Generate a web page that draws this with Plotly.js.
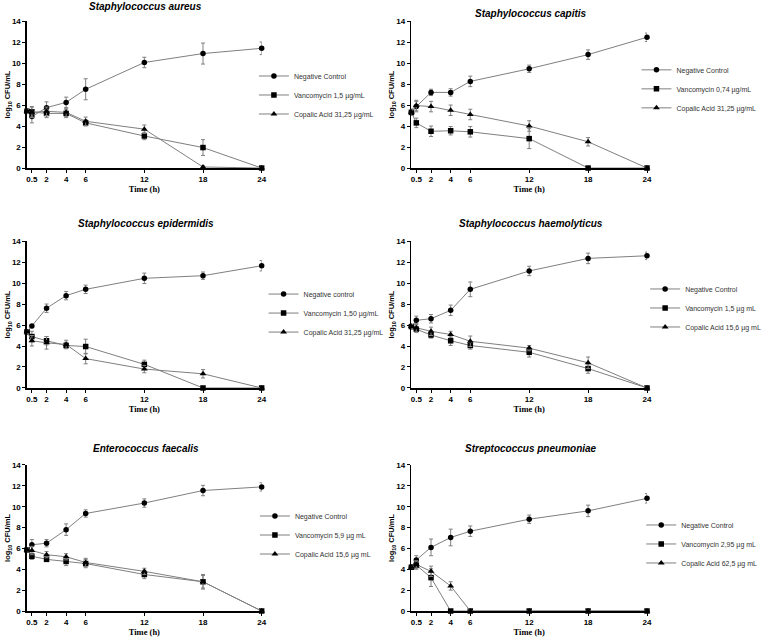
<!DOCTYPE html>
<html>
<head>
<meta charset="utf-8">
<script src="https://cdn.plot.ly/plotly-3.0.1.min.js"></script>
<style>html,body{margin:0;padding:0;background:#fff;}#chart{width:778px;height:637px;}</style>
</head>
<body>
<div id="chart"></div>
<script>
// ---- data ----
const times = [0, 0.5, 2, 4, 6, 12, 18, 24];
const timeTicks = [0.5, 2, 4, 6, 12, 18, 24];

const panelTitles = ["Staphylococcus aureus", "Staphylococcus capitis", "Staphylococcus epidermidis",
  "Staphylococcus haemolyticus", "Enterococcus faecalis", "Streptococcus pneumoniae"];

const negLabels = ["Negative Control", "Negative Control", "Negative control", "Negative Control", "Negative Control", "Negative Control"];
const vanLabels = ["Vancomycin 1,5 µg/mL", "Vancomycin 0,74 µg/mL", "Vancomycin 1,50 µg/mL", "Vancomycin 1,5 µg mL", "Vancomycin 5,9 µg mL", "Vancomycin 2,95 µg mL"];
const copLabels = ["Copalic Acid 31,25 µg/mL", "Copalic Acid 31,25 µg/mL", "Copalic Acid 31,25 µg/mL", "Copalic Acid 15,6 µg mL", "Copalic Acid 15,6 µg mL", "Copalic Acid 62,5 µg mL"];

// S. aureus
const aureusNeg = [5.4, 4.9, 5.75, 6.25, 7.5, 10.05, 10.9, 11.4];
const aureusNegErr = [0.2, 0.6, 0.55, 0.5, 1.0, 0.5, 1.0, 0.6];
const aureusVan = [5.4, 5.35, 5.2, 5.2, 4.3, 3.05, 1.95, 0];
const aureusVanErr = [0.2, 0.5, 0.4, 0.4, 0.3, 0.35, 0.75, 0];
const aureusCop = [5.4, 5.3, 5.4, 5.3, 4.45, 3.7, 0.1, 0];
const aureusCopErr = [0.2, 0.5, 0.4, 0.4, 0.4, 0.4, 0.1, 0];

// S. capitis
const capitisNeg = [5.3, 5.85, 7.2, 7.2, 8.25, 9.45, 10.8, 12.45];
const capitisNegErr = [0.3, 0.5, 0.3, 0.35, 0.5, 0.35, 0.45, 0.4];
const capitisVan = [5.3, 4.3, 3.5, 3.55, 3.45, 2.8, 0, 0];
const capitisVanErr = [0.3, 0.45, 0.5, 0.4, 0.5, 0.95, 0, 0];
const capitisCop = [5.3, 5.95, 5.85, 5.5, 5.1, 4.0, 2.5, 0];
const capitisCopErr = [0.3, 0.5, 0.5, 0.5, 0.5, 0.5, 0.4, 0];

// S. epidermidis
const epidermidisNeg = [5.35, 5.9, 7.6, 8.8, 9.4, 10.45, 10.7, 11.65];
const epidermidisNegErr = [0.2, 0.15, 0.4, 0.4, 0.4, 0.5, 0.35, 0.5];
const epidermidisVan = [5.35, 4.9, 4.5, 4.05, 3.95, 2.25, 0, 0];
const epidermidisVanErr = [0.2, 0.5, 0.4, 0.3, 0.7, 0.4, 0, 0];
const epidermidisCop = [5.35, 4.5, 4.3, 4.15, 2.8, 1.8, 1.35, 0];
const epidermidisCopErr = [0.2, 0.5, 0.6, 0.4, 0.5, 0.35, 0.4, 0];

// S. haemolyticus
const haemolyticusNeg = [5.85, 6.45, 6.6, 7.4, 9.4, 11.15, 12.35, 12.6];
const haemolyticusNegErr = [0.2, 0.4, 0.4, 0.5, 0.7, 0.45, 0.5, 0.35];
const haemolyticusVan = [5.85, 5.6, 5.05, 4.5, 4.05, 3.4, 1.85, 0];
const haemolyticusVanErr = [0.2, 0.3, 0.3, 0.45, 0.35, 0.45, 0.45, 0];
const haemolyticusCop = [5.85, 5.75, 5.4, 5.1, 4.45, 3.8, 2.4, 0];
const haemolyticusCopErr = [0.2, 0.4, 0.4, 0.3, 0.5, 0.25, 0.55, 0];

// E. faecalis
const faecalisNeg = [5.85, 6.35, 6.5, 7.8, 9.35, 10.35, 11.55, 11.9];
const faecalisNegErr = [0.2, 0.5, 0.35, 0.55, 0.35, 0.4, 0.5, 0.4];
const faecalisVan = [5.85, 5.25, 4.95, 4.75, 4.55, 3.5, 2.8, 0];
const faecalisVanErr = [0.2, 0.3, 0.2, 0.4, 0.4, 0.4, 0.6, 0];
const faecalisCop = [5.85, 5.8, 5.4, 5.2, 4.65, 3.8, 2.8, 0];
const faecalisCopErr = [0.2, 0.4, 0.3, 0.3, 0.4, 0.3, 0.7, 0];

// S. pneumoniae
const pneumoniaeNeg = [4.2, 4.9, 6.1, 7.05, 7.65, 8.8, 9.6, 10.8];
const pneumoniaeNegErr = [0.1, 0.4, 0.8, 0.8, 0.5, 0.4, 0.55, 0.45];
const pneumoniaeVan = [4.2, 4.4, 3.2, 0, 0, 0, 0, 0];
const pneumoniaeVanErr = [0.1, 0.4, 0.85, 0, 0, 0, 0, 0];
const pneumoniaeCop = [4.2, 4.45, 3.8, 2.4, 0, 0, 0, 0];
const pneumoniaeCopErr = [0.1, 0.35, 0.5, 0.4, 0, 0, 0, 0];

const panels = [
  [aureusNeg, aureusNegErr, aureusVan, aureusVanErr, aureusCop, aureusCopErr],
  [capitisNeg, capitisNegErr, capitisVan, capitisVanErr, capitisCop, capitisCopErr],
  [epidermidisNeg, epidermidisNegErr, epidermidisVan, epidermidisVanErr, epidermidisCop, epidermidisCopErr],
  [haemolyticusNeg, haemolyticusNegErr, haemolyticusVan, haemolyticusVanErr, haemolyticusCop, haemolyticusCopErr],
  [faecalisNeg, faecalisNegErr, faecalisVan, faecalisVanErr, faecalisCop, faecalisCopErr],
  [pneumoniaeNeg, pneumoniaeNegErr, pneumoniaeVan, pneumoniaeVanErr, pneumoniaeCop, pneumoniaeCopErr]
];

// ---- layout geometry ----
const xDomains = [[0, 0.3785], [0.62, 1]];
const yDomains = [[0.7508, 1], [0.378, 0.627], [0, 0.2475]];
const titlePos = [[0.1916, 1.025], [0.813, 1.012], [0.1916, 0.656], [0.813, 0.656], [0.1916, 0.276], [0.813, 0.276]];
const legendPos = [[0.366, 0.8746], [0.983, 0.885], [0.3816, 0.505], [0.997, 0.5136], [0.3676, 0.1288], [0.9907, 0.1136]];

const lineColor = '#7f7f7f';
const symbols = ['circle', 'square', 'triangle-up'];

const traces = [];
const layout = {
  width: 778, height: 637,
  margin: {l: 27, r: 109, t: 21, b: 26},
  paper_bgcolor: '#fff', plot_bgcolor: '#fff',
  showlegend: true,
  annotations: []
};

panels.forEach((p, i) => {
  const n = i + 1;
  const xa = n === 1 ? 'x' : 'x' + n;
  const ya = n === 1 ? 'y' : 'y' + n;
  const legId = n === 1 ? 'legend' : 'legend' + n;
  const names = [negLabels[i], vanLabels[i], copLabels[i]];
  for (let s = 0; s < 3; s++) {
    traces.push({
      type: 'scatter', mode: 'lines+markers',
      x: times, y: p[s * 2],
      name: names[s],
      xaxis: xa, yaxis: ya, legend: legId,
      cliponaxis: false,
      line: {color: lineColor, width: 1},
      marker: {symbol: symbols[s], color: '#000', size: s === 2 ? 6 : 5.5},
      error_y: {type: 'data', array: p[s * 2 + 1], visible: true, color: lineColor, thickness: 1, width: 2}
    });
  }
  const col = i % 2, row = Math.floor(i / 2);
  const xk = n === 1 ? 'xaxis' : 'xaxis' + n;
  const yk = n === 1 ? 'yaxis' : 'yaxis' + n;
  layout[xk] = {
    domain: xDomains[col], anchor: ya, range: [0, 24],
    tickmode: 'array', tickvals: timeTicks, ticktext: timeTicks.map(String),
    showline: true, linecolor: '#000', linewidth: 1.6,
    ticks: 'outside', ticklen: 3, tickwidth: 1, tickcolor: '#000',
    showgrid: false, zeroline: false,
    tickfont: {family: 'Liberation Sans, Arial', size: 8, color: '#000', weight: 'bold'},
    title: {text: 'Time (h)', standoff: 0, font: {family: 'Liberation Serif, Times New Roman', size: 8.5, color: '#000', weight: 'bold'}}
  };
  layout[yk] = {
    domain: yDomains[row], anchor: xa, range: [0, 14],
    tickmode: 'linear', tick0: 0, dtick: 2,
    showline: true, linecolor: '#000', linewidth: 1.6,
    ticks: 'outside', ticklen: 3, tickwidth: 1, tickcolor: '#000',
    showgrid: false, zeroline: false,
    tickfont: {family: 'Liberation Sans, Arial', size: 8, color: '#000', weight: 'bold'},
    title: {text: 'log<sub>10</sub> CFU/mL', standoff: 0, font: {family: 'Liberation Sans, Arial', size: 7.5, color: '#000', weight: 'bold'}}
  };
  layout[legId] = {
    x: legendPos[i][0], y: legendPos[i][1], xanchor: 'left', yanchor: 'middle',
    bgcolor: 'rgba(0,0,0,0)', borderwidth: 0,
    font: {family: 'Liberation Sans, Arial', size: 7, color: '#333'},
    itemwidth: 30, tracegroupgap: 0
  };
  layout.annotations.push({
    text: panelTitles[i], xref: 'paper', yref: 'paper',
    x: titlePos[i][0], y: titlePos[i][1], xanchor: 'center', yanchor: 'middle',
    showarrow: false,
    font: {family: 'Liberation Sans, Arial', size: 10, color: '#000', weight: 'bold', style: 'italic'}
  });
});

Plotly.newPlot('chart', traces, layout, {staticPlot: true, displayModeBar: false});
</script>
</body>
</html>
